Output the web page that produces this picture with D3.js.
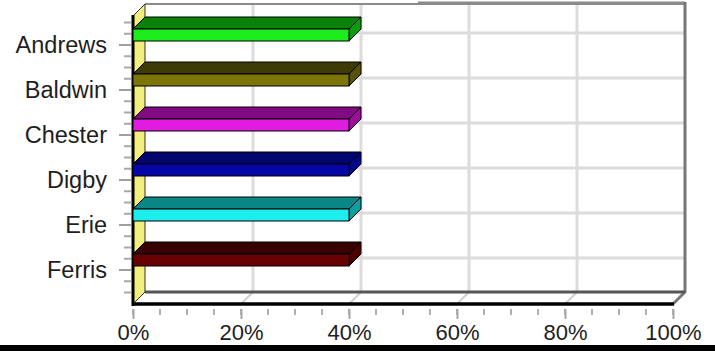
<!DOCTYPE html>
<html><head><meta charset="utf-8">
<script src="https://cdn.jsdelivr.net/npm/d3@7"></script>
<style>
html,body{margin:0;padding:0;background:#fff;}
svg{display:block;}
text{font-family:"Liberation Sans",Arial,sans-serif;}
</style></head>
<body>
<svg id="c" width="715" height="351"></svg>
<script>
const categories = ["Andrews","Baldwin","Chester","Digby","Erie","Ferris"];
const values = [0.40,0.40,0.40,0.40,0.40,0.40];
const tickValues = [0,0.2,0.4,0.6,0.8,1.0];
const frontColors = ["#1cec1c","#7c7608","#e01ce0","#0606a6","#1ceeee","#680202"];
const topColors   = ["#0a820a","#3e3b06","#820a82","#04046e","#0a8686","#380000"];
const endColors   = ["#0e9a0e","#56520a","#9a0e9a","#05058a","#0e9e9e","#4c0000"];

const svg = d3.select("#c");
const X0 = 133, X1 = 673, YT = 16, YB = 304, DX = 12, DY = -12;
const x = d3.scaleLinear().domain([0,1]).range([X0, X1]);
const y = d3.scaleBand().domain(categories).range([22.5, 292.5]).padding(0);

// back wall gridlines
const g = svg.append("g");
g.selectAll(".vg").data(tickValues.slice(1,-1)).join("line")
  .attr("x1", d => x(d)+DX).attr("x2", d => x(d)+DX)
  .attr("y1", YT+DY).attr("y2", YB+DY)
  .attr("stroke","#dcdcdc").attr("stroke-width",3);
g.selectAll(".vf").data(tickValues.slice(1,-1)).join("line")
  .attr("x1", d => x(d)+DX).attr("x2", d => x(d))
  .attr("y1", YB+DY).attr("y2", YB)
  .attr("stroke","#d0d0d0").attr("stroke-width",2);
g.selectAll(".hg").data(categories).join("line")
  .attr("x1", X0+DX).attr("x2", X1+DX)
  .attr("y1", d => y(d)+y.bandwidth()/2+DY).attr("y2", d => y(d)+y.bandwidth()/2+DY)
  .attr("stroke","#dcdcdc").attr("stroke-width",3);

// frame: top, right edges
svg.append("line").attr("x1",X0+DX).attr("x2",X1+DX).attr("y1",YT+DY).attr("y2",YT+DY)
  .attr("stroke","#8a8a8a").attr("stroke-width",2);
svg.append("line").attr("x1",418).attr("x2",X1+DX).attr("y1",YT+DY-1).attr("y2",YT+DY-1)
  .attr("stroke","#8a8a8a").attr("stroke-width",3);
svg.append("path").attr("d",`M${X1+DX},${YT+DY-2}L${X1+DX},${YB+DY}L${X1},${YB}`)
  .attr("fill","none").attr("stroke","#777").attr("stroke-width",3);
// floor back line
svg.append("line").attr("x1",X0+DX).attr("x2",X1+DX).attr("y1",YB+DY).attr("y2",YB+DY)
  .attr("stroke","#555").attr("stroke-width",3);
// floor front line
svg.append("line").attr("x1",X0).attr("x2",X1+1).attr("y1",YB).attr("y2",YB)
  .attr("stroke","#000").attr("stroke-width",3.5);

// left wall (yellow)
svg.append("path")
  .attr("d",`M${X0},${YT}L${X0+DX},${YT+DY}L${X0+DX},${YB+DY}L${X0},${YB}Z`)
  .attr("fill","#f4ee7c").attr("stroke","#333").attr("stroke-width",1);
svg.append("line").attr("x1",X0).attr("x2",X0).attr("y1",YT-1).attr("y2",YB+2)
  .attr("stroke","#000").attr("stroke-width",3);

// bars
const bars = svg.append("g");
categories.forEach((c,i) => {
  const cy = y(c) + y.bandwidth()/2;
  const yt = cy - 16, yb = cy - 4;
  const xr = x(values[i]);
  bars.append("path")
    .attr("d",`M${X0},${yt}L${X0+DX},${yt+DY}L${xr+DX},${yt+DY}L${xr},${yt}Z`)
    .attr("fill",topColors[i]).attr("stroke","#000").attr("stroke-width",1);
  bars.append("path")
    .attr("d",`M${xr},${yt}L${xr+DX},${yt+DY}L${xr+DX},${yb+DY}L${xr},${yb}Z`)
    .attr("fill",endColors[i]).attr("stroke","#000").attr("stroke-width",1);
  bars.append("rect").attr("x",X0).attr("y",yt).attr("width",xr-X0).attr("height",yb-yt)
    .attr("fill",frontColors[i]).attr("stroke","#000").attr("stroke-width",1);
});

// left axis ticks
const minor = [];
const step = y.step();
for (let k = 0; k <= 24; k++) minor.push(22.5 + k*step/4);
svg.append("g").selectAll("line").data(minor.filter(v => v>YT && v<YB)).join("line")
  .attr("x1",124).attr("x2",131).attr("y1",d=>d).attr("y2",d=>d)
  .attr("stroke","#a8a8a8").attr("stroke-width",2);
const ya = svg.append("g").attr("transform",`translate(${X0-2},0)`)
  .call(d3.axisLeft(y).tickSize(12).tickPadding(12));
ya.select(".domain").remove();
ya.selectAll(".tick line").attr("stroke","#a0a0a0").attr("stroke-width",2);
ya.selectAll(".tick text").attr("font-size",23.5).attr("fill","#1e1e1e")
  .attr("font-family","Liberation Sans, Arial, sans-serif").attr("dy","0.35em");

// bottom axis ticks
const minorX = d3.range(0, 1.0001, 0.05);
svg.append("g").selectAll("line").data(minorX).join("line")
  .attr("x1",d=>x(d)).attr("x2",d=>x(d)).attr("y1",YB+5).attr("y2",YB+11)
  .attr("stroke","#b0b0b0").attr("stroke-width",2);
const xa = svg.append("g").attr("transform",`translate(0,${YB+5})`)
  .call(d3.axisBottom(x).tickValues(tickValues).tickFormat(d3.format(".0%")).tickSize(10).tickPadding(5));
xa.select(".domain").remove();
xa.selectAll(".tick line").attr("stroke","#a8a8a8").attr("stroke-width",2);
xa.selectAll(".tick text").attr("font-size",22).attr("fill","#1e1e1e")
  .attr("font-family","Liberation Sans, Arial, sans-serif");

// bottom black band
svg.append("rect").attr("x",0).attr("y",345).attr("width",715).attr("height",6).attr("fill","#000");
</script>
</body></html>
